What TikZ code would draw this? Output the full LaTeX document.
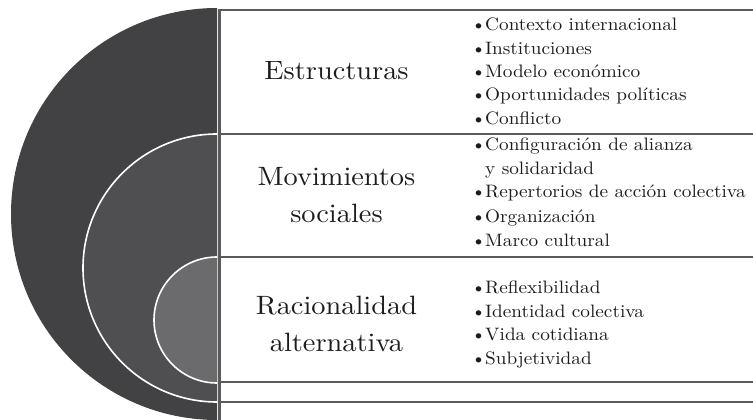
\documentclass[tikz,border=0pt]{standalone}
\usepackage{fontspec}
\setmainfont{lmroman10-regular.otf}[FakeStretch=1.07]
\definecolor{outerc}{HTML}{424244}
\definecolor{midc}{HTML}{4F4F51}
\definecolor{innerc}{HTML}{6B6B6D}
\definecolor{rulec}{HTML}{5A5A5A}
\definecolor{txt}{HTML}{1C1C1C}
\newcommand\bul{\llap{\makebox[13pt][c]{•}}}
\begin{document}
\begin{tikzpicture}[x=1pt,y=1pt,
  rulel/.style={draw=rulec,line width=2.2pt},
  ring/.style={draw=white,line width=1.6pt},
  head/.style={inner sep=0pt,anchor=base,text=txt,font=\fontsize{26.5}{30}\selectfont},
  item/.style={inner sep=0pt,anchor=base west,text=txt,font=\fontsize{18}{22}\selectfont}]
\useasboundingbox (0,0) rectangle (753,420);
% half discs
\fill[outerc] (217,412) arc[start angle=90,end angle=270,radius=206] -- cycle;
\fill[midc] (217,286) arc[start angle=90,end angle=270,radius=134] -- cycle;
\draw[ring] (217,286) arc[start angle=90,end angle=270,radius=134];
\fill[innerc] (217,163) arc[start angle=90,end angle=270,radius=63] -- cycle;
\draw[ring] (217,163) arc[start angle=90,end angle=270,radius=63];
% table rules
\coordinate (vt) at (219.5,411.1);
\coordinate (vb) at (219.5,0);
\draw[rulel] (vt) -- (vb);
\foreach \y/\n in {410/a,286/b,163/c,38/d,18/e}{
  \coordinate (l\n) at (218.4,\y);
  \coordinate (r\n) at (753,\y);
  \draw[rulel] (l\n) -- (r\n);
}
% headings
\node[head] (h1) at (336.5,340) {Estructuras};
\node[head] (h2a) at (336.5,234) {Movimientos};
\node[head] (h2b) at (336.5,197) {sociales};
\node[head] (h3a) at (336.5,105) {Racionalidad};
\node[head] (h3b) at (336.5,68) {alternativa};
% row 1 items
\node[item] (i11) at (485,389) {\bul Contexto internacional};
\node[item] (i12) at (485,365.7) {\bul Instituciones};
\node[item] (i13) at (485,342.4) {\bul Modelo económico};
\node[item] (i14) at (485,319) {\bul Oportunidades políticas};
\node[item] (i15) at (485,295.7) {\bul Conflicto};
% row 2 items
\node[item] (i21) at (485,269) {\bul Configuración de alianza};
\node[item] (i22) at (485,245.5) {y solidaridad};
\node[item] (i23) at (485,222) {\bul Repertorios de acción colectiva};
\node[item] (i24) at (485,197.5) {\bul Organización};
\node[item] (i25) at (485,173.5) {\bul Marco cultural};
% row 3 items
\node[item] (i31) at (485,126) {\bul Reflexibilidad};
\node[item] (i32) at (485,102.5) {\bul Identidad colectiva};
\node[item] (i33) at (485,79) {\bul Vida cotidiana};
\node[item] (i34) at (485,55.5) {\bul Subjetividad};
\end{tikzpicture}
\end{document}
